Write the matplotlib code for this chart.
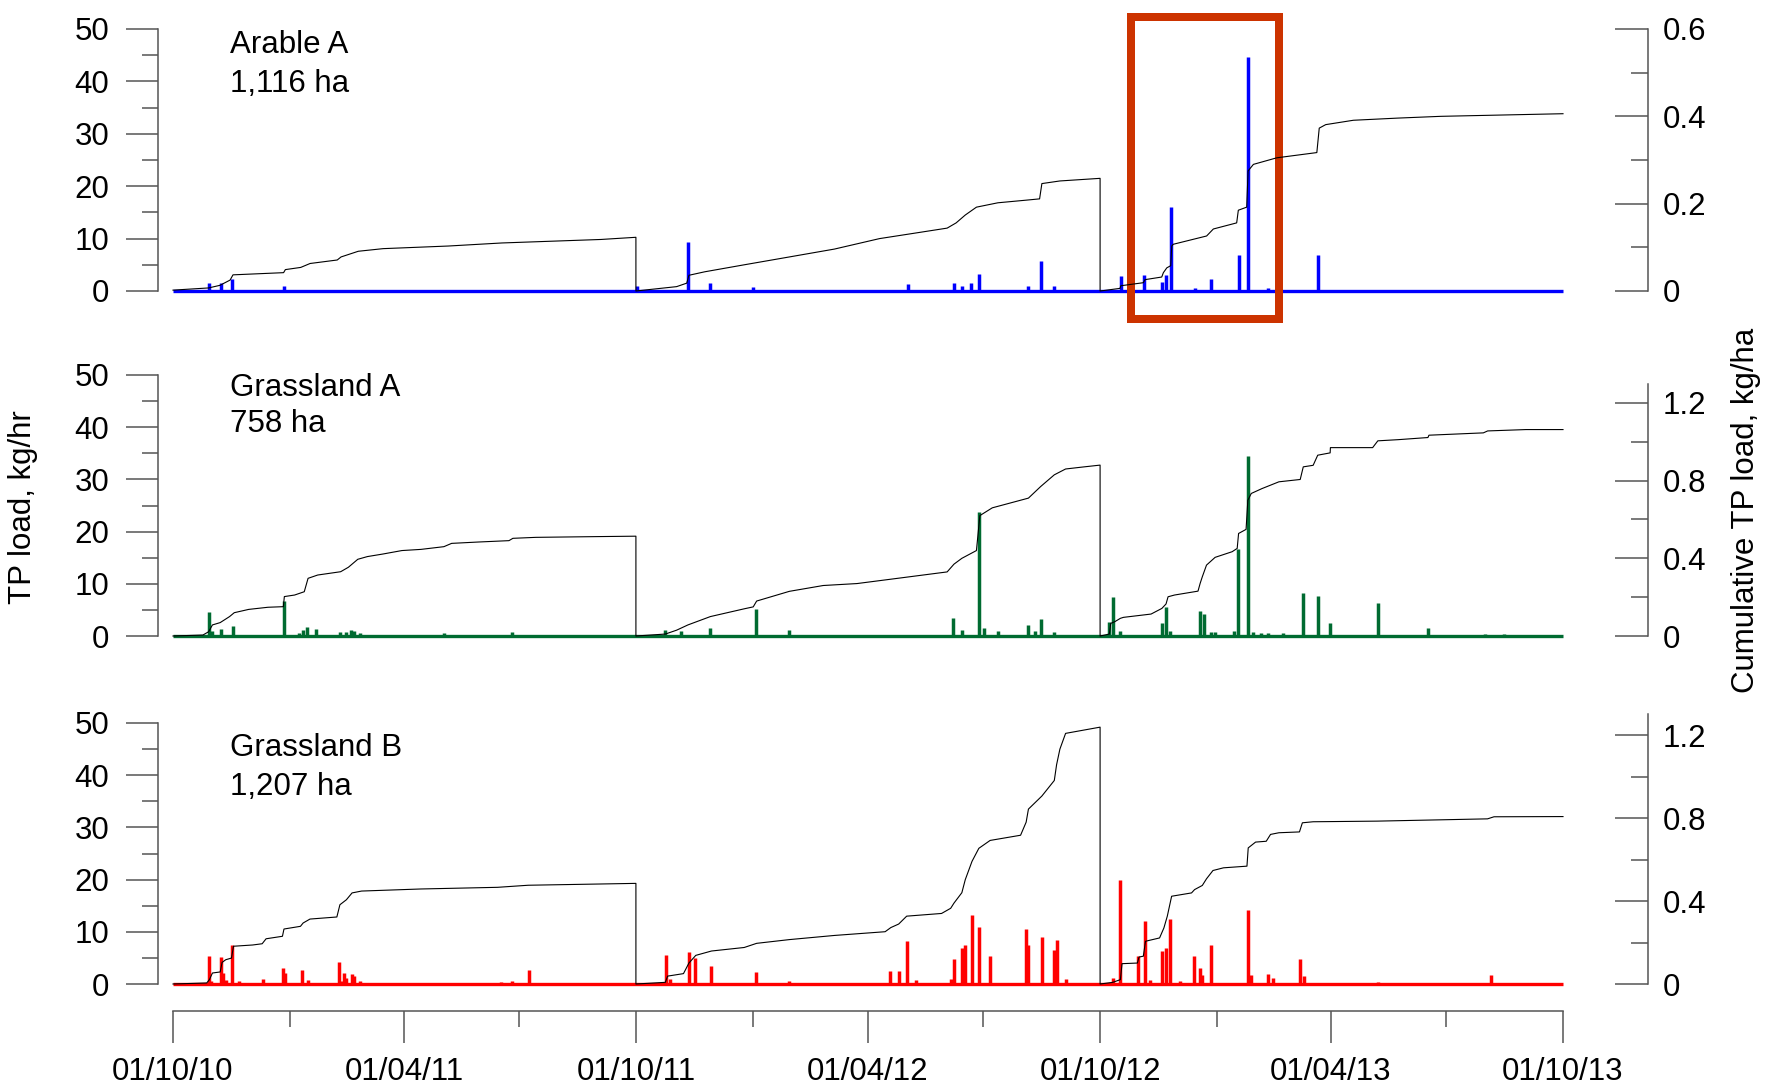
import datetime as dt
import numpy as np
import matplotlib
matplotlib.use("Agg")
import matplotlib.pyplot as plt
import matplotlib.dates as mdates
from matplotlib.ticker import MultipleLocator, FuncFormatter
from matplotlib.patches import Rectangle

plt.rcParams['font.family'] = ['Liberation Sans', 'DejaVu Sans']

# ---------------- data (days since 01/10/2010) ----------------
start_date = dt.datetime(2010, 10, 1)
end_day = 1096

# Arable A (1,116 ha)
arable_spike_day = [28.1, 37.9, 46.8, 87.7, 366, 406, 423.7, 457.5, 579.3, 615.8, 622, 629.1, 635.4,
                    674.5, 684.2, 694.9, 747.3, 765.6, 779.8, 782.9, 786.7, 805.8, 818.2, 840.3,
                    847.7, 863.1, 903]
arable_spike_load = [1.5, 1.5, 2.2, 1.0, 1.0, 9.3, 1.5, 0.8, 1.3, 1.5, 1.0, 1.5, 3.3,
                     1.0, 5.8, 1.0, 2.9, 3.0, 1.7, 3.1, 16.1, 0.5, 2.2, 6.9,
                     44.6, 0.5, 6.9]
arable_cum_day = [0, 28.1, 37, 45, 47.3, 87.2, 88.6, 100.7, 108.1, 129.5, 132.5, 146.1, 165.7, 217.1,
                  259.3, 337.3, 365, 365,
                  397.1, 405.1, 406.8, 419.3, 450.4, 486, 521.5, 557.1, 583.8, 610.4, 617.5, 624.7,
                  633.5, 650.4, 672.6, 683.3, 685.1, 699.3, 731, 731,
                  746.7, 747.3, 765.1, 766.4, 779.6, 780.9, 783.6, 786.7, 787.5, 788.7, 815, 820.3,
                  838.7, 840, 846.6, 847.7, 851.9, 870.3, 888.7, 901.9, 903.8, 908.9, 930.7, 966,
                  999.6, 1096]
arable_cum_load = [0.002, 0.007, 0.013, 0.025, 0.037, 0.042, 0.049, 0.054, 0.063, 0.071, 0.078, 0.091,
                   0.097, 0.103, 0.110, 0.118, 0.123, 0.0,
                   0.010, 0.018, 0.036, 0.044, 0.060, 0.078, 0.096, 0.120, 0.132, 0.144, 0.156, 0.174,
                   0.192, 0.202, 0.208, 0.211, 0.246, 0.252, 0.258, 0.0,
                   0.006, 0.012, 0.019, 0.026, 0.032, 0.042, 0.053, 0.058, 0.103, 0.107, 0.126, 0.142,
                   0.156, 0.185, 0.192, 0.275, 0.290, 0.305, 0.312, 0.317, 0.373, 0.381, 0.391, 0.396,
                   0.400, 0.406]

# Grassland A (758 ha)
grassA_spike_day = [28.1, 30.8, 38.1, 47.1, 87.5, 99, 102.6, 105.9, 112.6, 131.6, 136.7, 140.7, 142.8,
                    147.2, 213.6, 267.1,
                    388.2, 400.6, 423.7, 459.3, 486, 614.9, 622, 635.4, 639.8, 650.4, 674.5, 679.8,
                    684.2, 694.9,
                    738.3, 741, 747, 779.7, 783, 786.3, 809.9, 812.6, 818.3, 821.7, 836.7, 839.8,
                    847.5, 851.8, 857.9, 863.6, 875.3, 891.1, 902.5, 912.6, 949.9, 989.5, 1034.8, 1049.3]
grassA_spike_load = [4.6, 1.0, 1.3, 1.9, 6.8, 0.5, 1.2, 1.7, 1.3, 0.8, 0.8, 1.2, 1.0,
                     0.5, 0.6, 0.8,
                     1.2, 1.0, 1.6, 5.2, 1.1, 3.5, 1.2, 23.7, 1.5, 1.0, 2.2, 1.0,
                     3.3, 0.8,
                     2.7, 7.5, 1.0, 2.4, 5.6, 1.0, 4.7, 4.2, 0.8, 0.8, 1.0, 16.6,
                     34.5, 0.8, 0.6, 0.6, 0.5, 8.3, 7.7, 2.4, 6.3, 1.5, 0.4, 0.3]
grassA_cum_day = [0, 23.6, 28.1, 31.1, 37.2, 44.6, 48.3, 59.7, 74.9, 87, 87.8, 95.9, 103.5, 106.5,
                  114.1, 132.2, 138.3, 145.7, 153.3, 165.4, 180.5, 195.5, 213.6, 219.7, 240.9, 264.9,
                  268, 286.1, 336.8, 365, 365,
                  388.2, 397.1, 406, 423.7, 450.4, 457.5, 460.2, 486, 512.7, 539.3, 574.9, 610.4,
                  615.8, 622, 633.5, 636.2, 646, 674.5, 684.2, 694.9, 703.8, 717.1, 731, 731,
                  738.3, 739.4, 742.7, 747, 749.4, 771.2, 779.7, 783, 784.6, 789.7, 808.2, 809.9,
                  811.6, 814.9, 821.7, 835.1, 839.1, 840.2, 846.1, 847.5, 850.2, 858.6, 872, 888.8,
                  891.2, 899, 902.6, 912.4, 912.6, 945.9, 950, 966, 989.5, 990.3, 1033.2, 1036.6,
                  1066.8, 1096]
grassA_cum_load = [0.0, 0.005, 0.022, 0.057, 0.069, 0.100, 0.120, 0.137, 0.148, 0.151, 0.203, 0.211,
                   0.228, 0.297, 0.314, 0.331, 0.354, 0.395, 0.409, 0.422, 0.440, 0.446, 0.460, 0.477,
                   0.484, 0.491, 0.503, 0.508, 0.512, 0.514, 0.0,
                   0.010, 0.030, 0.057, 0.100, 0.140, 0.150, 0.180, 0.230, 0.260, 0.270, 0.300, 0.330,
                   0.370, 0.400, 0.440, 0.620, 0.660, 0.710, 0.770, 0.830, 0.860, 0.870, 0.880, 0.0,
                   0.010, 0.065, 0.074, 0.091, 0.096, 0.113, 0.142, 0.165, 0.202, 0.211, 0.231, 0.271,
                   0.305, 0.365, 0.405, 0.434, 0.451, 0.528, 0.549, 0.699, 0.734, 0.759, 0.794, 0.806,
                   0.871, 0.879, 0.931, 0.943, 0.970, 0.970, 1.005, 1.011, 1.022, 1.034, 1.046, 1.056,
                   1.063, 1.063]

# Grassland B (1,207 ha)
grassB_spike_day = [28.7, 30.1, 38.1, 39.2, 41.6, 46.8, 52.2, 71.2, 87, 88.5, 102, 106.5, 130.7, 132.1,
                    135.2, 136.7, 141.2, 142.7, 147.2, 258.9, 267.1, 280.9,
                    389.1, 391.7, 406.8, 411.3, 424.6, 459.3, 486, 565.1, 572.2, 578.5, 585.6, 613.2,
                    615.8, 622, 624.7, 630, 635.4, 644.3, 672.7, 674.5, 685.1, 694.9, 696.7, 703.8,
                    741, 747, 761.2, 766.2, 770.6, 779.7, 783, 786.3, 794.1, 804.8, 809.9, 811.6,
                    818.3, 847.5, 850.2, 863.6, 867, 888.8, 891.5, 949.9, 1039.2]
grassB_spike_load = [5.4, 0.5, 5.2, 2.1, 0.8, 7.5, 0.5, 1.0, 3.1, 2.1, 2.7, 0.7, 4.2, 0.5,
                     2.2, 1.1, 1.9, 1.6, 0.5, 0.4, 0.6, 2.6,
                     5.6, 1.0, 6.2, 5.0, 3.4, 2.3, 0.6, 2.4, 2.4, 8.3, 0.8, 1.0,
                     4.8, 6.9, 7.5, 13.2, 11.0, 5.4, 10.5, 7.5, 9.0, 6.5, 8.5, 1.0,
                     1.1, 20.0, 5.4, 12.0, 0.8, 6.3, 6.9, 12.5, 0.5, 5.3, 3.1, 1.8,
                     7.4, 14.1, 1.8, 2.0, 1.1, 4.7, 1.6, 0.4, 1.8]
grassB_cum_day = [0, 26.6, 28.7, 31.1, 37.2, 38.7, 41.6, 46.1, 47.7, 62.8, 70.3, 73.4, 86.3, 87.5,
                  100.5, 102.6, 108, 129.2, 131.6, 136.7, 141.2, 148.7, 195.5, 255.9, 280.1, 336.8,
                  365, 365,
                  388.2, 390, 402.5, 406.8, 412.2, 424.6, 450.4, 460.2, 486, 521.5, 561.5, 566,
                  572.2, 578.5, 606, 613.2, 615.8, 622, 624.7, 630, 635.4, 644.3, 668.3, 672.7,
                  674.5, 685.1, 694.9, 696.7, 699.3, 703.8, 731, 731,
                  741, 747, 748.3, 760.4, 761.7, 765.1, 766.8, 777.9, 781.3, 784, 787.4, 803.1,
                  805.5, 811.6, 814.9, 820, 828.3, 846.8, 847.8, 853.6, 862, 865.4, 872, 888.2,
                  890.5, 899, 949.3, 1036.5, 1041.6, 1096]
grassB_cum_load = [0.0, 0.005, 0.021, 0.053, 0.058, 0.104, 0.117, 0.125, 0.182, 0.188, 0.194, 0.218,
                   0.230, 0.265, 0.278, 0.294, 0.313, 0.323, 0.382, 0.406, 0.439, 0.448, 0.458, 0.466,
                   0.476, 0.482, 0.485, 0.0,
                   0.008, 0.038, 0.050, 0.101, 0.138, 0.159, 0.176, 0.196, 0.214, 0.234, 0.252, 0.272,
                   0.289, 0.327, 0.340, 0.365, 0.390, 0.440, 0.503, 0.591, 0.654, 0.692, 0.717, 0.780,
                   0.843, 0.906, 0.981, 1.057, 1.132, 1.208, 1.238, 0.0,
                   0.008, 0.021, 0.098, 0.101, 0.130, 0.134, 0.206, 0.222, 0.270, 0.327, 0.423, 0.439,
                   0.455, 0.475, 0.507, 0.547, 0.560, 0.568, 0.656, 0.684, 0.688, 0.721, 0.729, 0.733,
                   0.777, 0.782, 0.785, 0.796, 0.806, 0.807]

panel_names = ["Arable A", "Grassland A", "Grassland B"]
panel_areas = ["1,116 ha", "758 ha", "1,207 ha"]
load_colors = ["#0000ff", "#006b31", "#ff0000"]
right_max = [0.6, 1.344, 1.258]
right_spine_top = [0.6, 1.3, 1.3]
right_major = [0.2, 0.4, 0.4]

# highlight box on Arable A panel (days, kg/hr)
box_days = [755.4, 872.1]
box_load = [-5.3, 52.3]

# ---------------- figure ----------------
W, H = 1768, 1090
fig = plt.figure(figsize=(W / 100, H / 100), dpi=100)
PT = 0.72  # points per pixel at 100 dpi


def rect(x0, ytop, x1, ybot):
    return [x0 / W, 1 - ybot / H, (x1 - x0) / W, (ybot - ytop) / H]


panel_px = [(29, 291), (375, 636), (723, 984)]
x_left, x_right = 173, 1563

d0 = mdates.date2num(start_date)


def todate(days):
    return d0 + np.asarray(days, dtype=float)


spike_days = [arable_spike_day, grassA_spike_day, grassB_spike_day]
spike_loads = [arable_spike_load, grassA_spike_load, grassB_spike_load]
cum_days = [arable_cum_day, grassA_cum_day, grassB_cum_day]
cum_loads = [arable_cum_load, grassA_cum_load, grassB_cum_load]

FS = 22.5
spine_col = "#555555"
axes = []
for i in range(3):
    ytop, ybot = panel_px[i]
    ax = fig.add_axes(rect(x_left, ytop, x_right, ybot))
    ax.patch.set_visible(False)
    ax.set_xlim(todate(0), todate(end_day))
    ax.set_ylim(0, 50)
    # load series
    ax.plot(todate([0, end_day]), [0, 0], color=load_colors[i], lw=2.4, clip_on=False,
            solid_capstyle='butt', zorder=2)
    ax.vlines(todate(spike_days[i]), 0, spike_loads[i], color=load_colors[i], lw=2.5,
              clip_on=False, zorder=2)

    for s in ["top", "right"]:
        ax.spines[s].set_visible(False)
    ax.spines["left"].set_position(("outward", 15 * PT))
    ax.spines["left"].set_color(spine_col)
    ax.spines["left"].set_linewidth(1.1)
    ax.yaxis.set_major_locator(MultipleLocator(10))
    ax.yaxis.set_minor_locator(MultipleLocator(5))
    ax.tick_params(axis="y", which="major", direction="out", length=32 * PT, width=1.1,
                   color=spine_col, labelsize=FS, pad=12)
    ax.tick_params(axis="y", which="minor", direction="out", length=16 * PT, width=1.1,
                   color=spine_col)

    if i < 2:
        ax.spines["bottom"].set_visible(False)
        ax.tick_params(axis="x", which="both", bottom=False, labelbottom=False)
    else:
        ax.spines["bottom"].set_position(("outward", 27 * PT))
        ax.spines["bottom"].set_color(spine_col)
        ax.spines["bottom"].set_linewidth(1.1)
        ax.xaxis.set_major_locator(mdates.MonthLocator(bymonth=[4, 10], bymonthday=1))
        ax.xaxis.set_minor_locator(mdates.MonthLocator(bymonth=[1, 7], bymonthday=1))
        ax.xaxis.set_major_formatter(mdates.DateFormatter("%d/%m/%y"))
        ax.tick_params(axis="x", which="major", direction="out", length=32 * PT, width=1.1,
                       color=spine_col, labelsize=FS, pad=10)
        ax.tick_params(axis="x", which="minor", direction="out", length=16 * PT, width=1.1,
                       color=spine_col)

    # cumulative on right axis
    ax2 = ax.twinx()
    ax2.set_ylim(0, right_max[i])
    ax2.plot(todate(cum_days[i]), cum_loads[i], color="black", lw=0.8, clip_on=False, zorder=3)
    for s in ["top", "left", "bottom"]:
        ax2.spines[s].set_visible(False)
    ax2.spines["right"].set_position(("outward", 85 * PT))
    ax2.spines["right"].set_bounds(0, right_spine_top[i])
    ax2.spines["right"].set_color(spine_col)
    ax2.spines["right"].set_linewidth(1.1)
    ax2.yaxis.set_major_locator(MultipleLocator(right_major[i]))
    ax2.yaxis.set_minor_locator(MultipleLocator(right_major[i] / 2))
    ax2.yaxis.set_major_formatter(FuncFormatter(lambda v, p: f"{v:g}"))
    ax2.tick_params(axis="y", which="major", direction="in", length=33 * PT, width=1.1,
                    color=spine_col, labelsize=FS, pad=15 * PT)
    ax2.tick_params(axis="y", which="minor", direction="in", length=17 * PT, width=1.1,
                    color=spine_col)
    if i > 0:
        ax2.set_yticks([t for t in np.arange(0, 1.21, 0.4)])
        ax2.set_yticks([0.2, 0.6, 1.0], minor=True)
    axes.append(ax)

    # panel labels
    label_base = [(53, 92), (396, 432), (756, 795)][i]
    fig.text(230 / W, 1 - label_base[0] / H, panel_names[i], fontsize=FS, ha="left", va="baseline")
    fig.text(230 / W, 1 - label_base[1] / H, panel_areas[i], fontsize=FS, ha="left", va="baseline")

# highlight box
ax0 = axes[0]
x0, x1 = todate(box_days)
box = Rectangle((x0, box_load[0]), x1 - x0, box_load[1] - box_load[0], fill=False,
                edgecolor="#cc3300", lw=8 * PT, clip_on=False, zorder=5, joinstyle="miter")
ax0.add_patch(box)

fig.text(23 / W, 1 - 507 / H, "TP load, kg/hr", rotation=90, fontsize=22.5, ha="center", va="center")
fig.text(1746 / W, 1 - 510 / H, "Cumulative TP load, kg/ha", rotation=90, fontsize=22.5,
         ha="center", va="center")

fig.savefig("out.png", dpi=100)
